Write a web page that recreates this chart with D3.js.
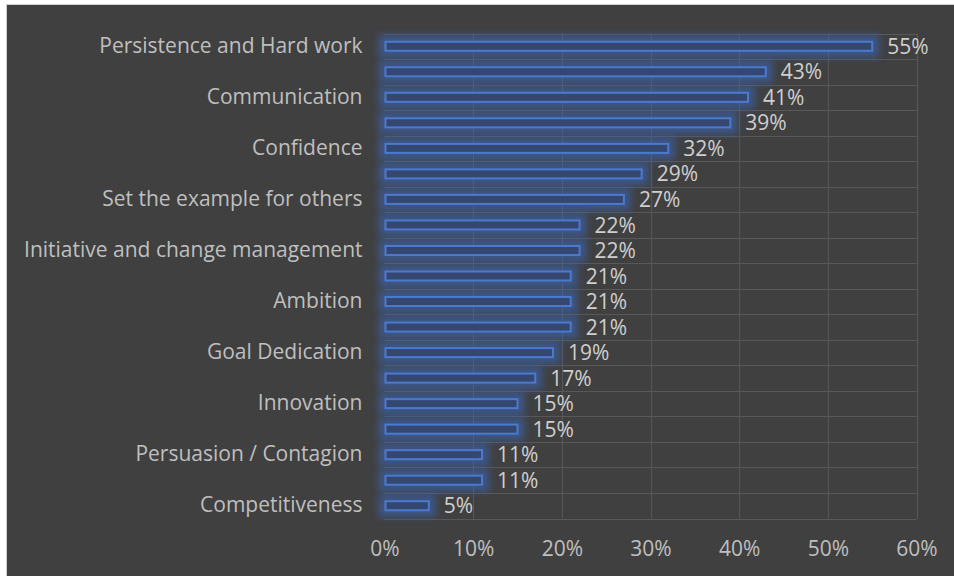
<!DOCTYPE html>
<html>
<head>
<meta charset="utf-8">
<script src="https://cdn.jsdelivr.net/npm/d3@7"></script>
<style>
  html, body { margin: 0; padding: 0; background: #ffffff; }
  svg { display: block; }
  text { font-family: "Open Sans", Lato, sans-serif; }
</style>
</head>
<body>
<svg id="chart" width="954" height="576"></svg>
<script>
// Share of respondents naming each trait (sorted, largest first)
const categories = [
  "Persistence and Hard work", "",
  "Communication", "",
  "Confidence", "",
  "Set the example for others", "",
  "Initiative and change management", "",
  "Ambition", "",
  "Goal Dedication", "",
  "Innovation", "",
  "Persuasion / Contagion", "",
  "Competitiveness"
];
const values = [0.55, 0.43, 0.41, 0.39, 0.32, 0.29, 0.27, 0.22, 0.22, 0.21,
                0.21, 0.21, 0.19, 0.17, 0.15, 0.15, 0.11, 0.11, 0.05];
const xTicks = [0, 0.1, 0.2, 0.3, 0.4, 0.5, 0.6];

const W = 954, H = 576;
const FONT = "'Open Sans', Lato, sans-serif";
const svg = d3.select("#chart");

// frame
svg.append("rect").attr("x", 6.5).attr("y", 4.5)
  .attr("width", W).attr("height", H)
  .attr("fill", "#404040").attr("stroke", "#d0d0d0").attr("stroke-width", 1);

const plot = { left: 384.5, right: 916.5, top: 33.5, bottom: 518.5 };

const x = d3.scaleLinear().domain([0, 0.6]).range([plot.left, plot.right]);
const rows = d3.scaleBand().domain(d3.range(categories.length))
  .range([plot.top, plot.bottom]).paddingInner(0).paddingOuter(0);

// glow filter for the bars
const defs = svg.append("defs");
const f = defs.append("filter").attr("id", "glow")
  .attr("x", "-30%").attr("y", "-250%").attr("width", "160%").attr("height", "600%");
f.append("feMorphology").attr("in", "SourceAlpha").attr("operator", "dilate")
  .attr("radius", 6).attr("result", "thick");
f.append("feGaussianBlur").attr("in", "thick").attr("stdDeviation", 3.5).attr("result", "blur");
f.append("feFlood").attr("flood-color", "#3a64b4").attr("flood-opacity", 0.6).attr("result", "col");
f.append("feComposite").attr("in", "col").attr("in2", "blur").attr("operator", "in").attr("result", "halo");
const m = f.append("feMerge");
m.append("feMergeNode").attr("in", "halo");
m.append("feMergeNode").attr("in", "SourceGraphic");

// gridlines
const grid = svg.append("g").attr("stroke", "#585858").attr("stroke-width", 1);
grid.selectAll("line.v").data(xTicks.slice(1)).join("line")
  .attr("x1", d => Math.round(x(d)) + 0.5).attr("x2", d => Math.round(x(d)) + 0.5)
  .attr("y1", plot.top).attr("y2", plot.bottom);
grid.selectAll("line.h").data(d3.range(categories.length + 1)).join("line")
  .attr("x1", plot.left).attr("x2", plot.right)
  .attr("y1", i => Math.round(plot.top + i * rows.step()) + 0.5)
  .attr("y2", i => Math.round(plot.top + i * rows.step()) + 0.5);

// bars
svg.append("g").selectAll("rect").data(values).join("rect")
  .attr("x", x(0) + 1)
  .attr("y", (d, i) => rows(i) + (rows.step() - 9) / 2)
  .attr("width", d => x(d) - x(0) - 1)
  .attr("height", 9)
  .attr("fill", "#34476e")
  .attr("stroke", "#4a7ad0")
  .attr("stroke-width", 2)
  .attr("filter", "url(#glow)");

// value labels
svg.append("g").selectAll("text").data(values).join("text")
  .attr("x", d => x(d) + 15)
  .attr("y", (d, i) => rows(i) + rows.step() / 2)
  .attr("dy", "0.36em")
  .attr("fill", "#cfcfcf")
  .attr("font-size", 21)
  .attr("font-family", FONT)
  .text(d => d3.format(".0%")(d));

// category axis
const yAxis = d3.axisLeft(rows).tickSize(0).tickPadding(22)
  .tickFormat(i => categories[i]);
const gy = svg.append("g").attr("transform", `translate(${plot.left},0)`).call(yAxis);
gy.select(".domain").remove();
gy.selectAll("text").attr("fill", "#bfbfbf").attr("font-size", 21)
  .attr("font-family", FONT);

// value axis
const xAxis = d3.axisBottom(x).tickValues(xTicks).tickSize(0).tickPadding(23)
  .tickFormat(d3.format(".0%"));
const gx = svg.append("g").attr("transform", `translate(0,${plot.bottom})`).call(xAxis);
gx.select(".domain").remove();
gx.selectAll("text").attr("fill", "#bfbfbf").attr("font-size", 21)
  .attr("font-family", FONT);
</script>
</body>
</html>
